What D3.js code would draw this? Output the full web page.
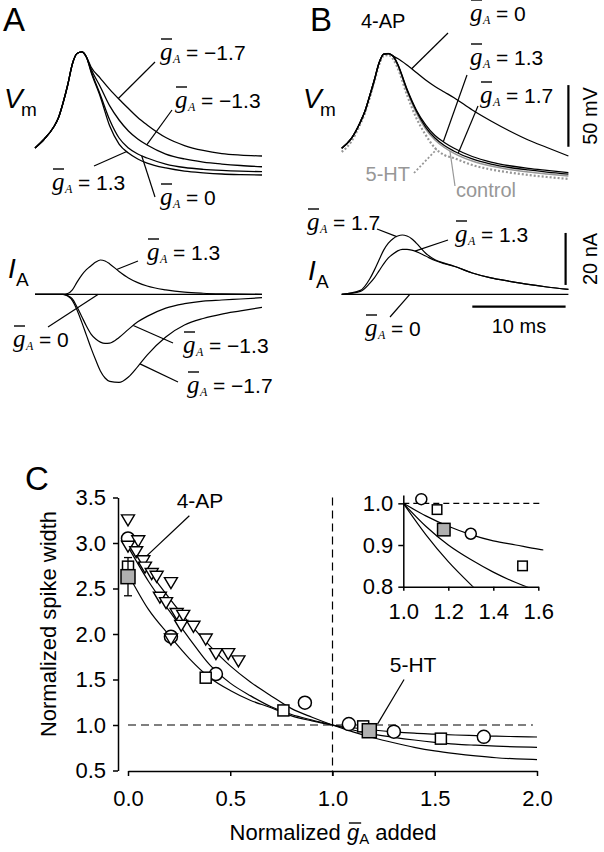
<!DOCTYPE html>
<html>
<head>
<meta charset="utf-8">
<script src="https://cdnjs.cloudflare.com/ajax/libs/d3/7.8.5/d3.min.js"></script>
<style>
body { margin: 0; background: #fff; }
</style>
</head>
<body>
<div id="fig"></div>
<script>

// ---- panel A / B traces (time in ms, Vm in mV, IA in nA) ----
var vmTime = [0, 1, 2, 2.5, 3, 3.5, 4, 4.5, 5, 5.5, 6, 7, 8, 9, 10, 11, 12, 14, 16, 18, 20, 22, 24.3];

var vmRiseA = [-50, -42.7, -33, -25.7, -13.5, 1.1, 18.1, 26.6, 27.9, 23.8];
var vmTailA_p13 = [11.6, -8.6, -32.2, -46.8, -54.1, -58.9, -62.2, -66.2, -68.7, -70.1, -71.1, -71.6, -71.9];
var vmTailA_0 = [12.4, -7.0, -27.3, -41.9, -50.0, -54.9, -58.1, -63.0, -65.8, -67.3, -68.2, -68.8, -69.2];
var vmTailA_m13 = [14.1, -0.5, -15.9, -27.3, -36.2, -42.7, -47.6, -54.9, -58.9, -61.4, -63.0, -64.2, -65.2];
var vmTailA_m17 = [15.7, 6.5, -2.5, -10.5, -18.0, -25.3, -31.3, -41.5, -48.0, -52.0, -54.5, -55.7, -56.5];

var vmRiseB = [-50.2, -42.7, -28.9, -20.0, -7.8, 5.1, 18.9, 26.2, 26.6, 24.6];
var vmTailB_0 = [22.6, 17.3, 11.2, 5.1, -0.1, -4.6, -9.0, -19.2, -28.1, -36.2, -43.5, -49.6, -56.5];
var vmTailB_13 = [18.1, -2.2, -19.2, -31.3, -39.9, -45.5, -50.0, -56.9, -61.4, -64.4, -66.6, -68.2, -69.9];
var vmTailB_17 = [17.7, -3.0, -20.0, -33.0, -41.9, -48.0, -52.4, -58.9, -63.0, -65.8, -67.8, -69.5, -71.1];
var vmTailB_control = [17.3, -3.8, -21.6, -34.6, -43.5, -49.6, -54.1, -60.5, -64.6, -67.4, -69.5, -71.1, -72.7];
var vmB_5HT = [-53.2, -45.1, -30.5, -21.6, -9.4, 3.5, 17.3, 24.6, 25.4, 22.2, 14.9, -7.0, -25.7, -39.4, -50.0, -55.7, -58.1, -63.8, -67.4, -69.9, -71.9, -73.5, -75.1];

var iaTime = [0, 2, 3, 3.5, 4, 4.5, 5, 5.5, 6, 6.5, 7, 7.5, 8, 9, 10, 11, 12, 14, 16, 18, 20, 22, 24.3];
var iaA_p13 = [0, 0, 0, 0.3, 1.7, 4.7, 7.4, 9.5, 11.0, 12.4, 13.2, 12.8, 11.7, 8.8, 6.3, 4.5, 3.2, 1.7, 0.8, 0.4, 0.2, 0.1, 0];
var iaA_0 = [0, 0, 0, 0, 0, 0, 0, 0, 0, 0, 0, 0, 0, 0, 0, 0, 0, 0, 0, 0, 0, 0, 0];
var iaA_m13 = [0, 0, 0, -0.5, -1.8, -4.9, -8.5, -12.2, -15.3, -17.2, -18.4, -18.9, -18.8, -16.6, -13.5, -10.6, -8.5, -5.3, -3.6, -2.6, -2.2, -1.8, -1.3];
var iaA_m17 = [0, 0, 0, -0.7, -2.4, -6.0, -10.7, -15.7, -20.7, -25.3, -29.5, -32.2, -33.5, -33.9, -31.8, -27.8, -23.4, -16.4, -11.8, -9.3, -7.6, -6.4, -5.0];
var iaB_17 = [0, 1.5, 5.9, 9.3, 13.2, 17.0, 19.7, 21.4, 22.4, 22.8, 22.4, 21.4, 19.7, 15.8, 13.3, 12.0, 10.9, 8.2, 6.3, 5.0, 3.8, 2.8, 1.9];
var iaB_13 = [0, 1.1, 4.2, 6.3, 9.0, 11.7, 14.0, 15.5, 16.7, 17.3, 17.3, 17.0, 16.4, 14.7, 13.0, 11.8, 10.8, 8.2, 6.3, 5.0, 3.8, 2.8, 1.9];
var iaB_0 = [0, 0, 0, 0, 0, 0, 0, 0, 0, 0, 0, 0, 0, 0, 0, 0, 0, 0, 0, 0, 0, 0, 0];

// ---- panel C ----
var fitX = [0, 0.1, 0.2, 0.3, 0.4, 0.5, 0.6, 0.7, 0.8, 0.9, 1.0, 1.1, 1.2, 1.3, 1.4, 1.5, 1.6, 1.7, 1.8, 1.9, 2.0];
var fitSteep = [3.02, 2.70, 2.40, 2.12, 1.87, 1.65, 1.47, 1.32, 1.18, 1.085, 1.0, 0.925, 0.86, 0.805, 0.755, 0.715, 0.685, 0.66, 0.64, 0.628, 0.62];
var fitMid = [2.96, 2.58, 2.26, 1.95, 1.66, 1.46, 1.32, 1.20, 1.115, 1.055, 1.0, 0.945, 0.90, 0.865, 0.835, 0.81, 0.79, 0.778, 0.768, 0.76, 0.755];
var fitFlat = [2.66, 2.27, 1.99, 1.73, 1.52, 1.38, 1.27, 1.19, 1.10, 1.045, 1.0, 0.97, 0.945, 0.925, 0.91, 0.90, 0.89, 0.883, 0.877, 0.872, 0.868];

var triX = [0.0, 0.05, 0.0, 0.04, 0.075, 0.083, 0.116, 0.14, 0.21, 0.156, 0.186, 0.238, 0.27, 0.26, 0.32, 0.38, 0.21, 0.43, 0.49, 0.54];
var triY = [3.26, 3.03, 2.97, 2.91, 2.81, 2.74, 2.67, 2.64, 2.57, 2.41, 2.35, 2.23, 2.21, 2.10, 2.09, 1.95, 1.95, 1.79, 1.79, 1.71];
var circX = [0.0, 0.21, 0.43, 0.865, 1.08, 1.30, 1.74];
var circY = [3.05, 1.97, 1.56, 1.245, 1.01, 0.927, 0.87];
var sqX = [0.0, 0.38, 0.76, 1.15, 1.53];
var sqY = [2.74, 1.52, 1.16, 0.985, 0.85];
var graySqX = [0.0, 1.18];
var graySqY = [2.63, 0.937];
var graySqErr = [[2.42, 2.84], null];

var yTicksC = [0.5, 1.0, 1.5, 2.0, 2.5, 3.0, 3.5];
var xTicksC = [0, 0.5, 1.0, 1.5, 2.0];
var yTicksIn = [0.8, 0.9, 1.0];
var xTicksIn = [1.0, 1.2, 1.4, 1.6];


var sans = "'Liberation Sans', Arial, Helvetica, sans-serif";
var serif = "'Liberation Serif', 'Times New Roman', serif";
var grey = "#979797";

var svg = d3.select("#fig").append("svg")
	.attr("width", 604)
	.attr("height", 852)
	.style("font-family", sans);

function zip(t, v) { return t.map(function(d, i) { return [d, v[i]]; }); }

function valAt(t, v, tt) {
	for (var i = 1; i < t.length; i++) {
		if (tt <= t[i]) {
			var f = (tt - t[i-1]) / (t[i] - t[i-1]);
			return v[i-1] + f * (v[i] - v[i-1]);
		}
	}
	return v[v.length-1];
}

function line(x, y) {
	return d3.line()
		.x(function(d) { return x(d[0]); })
		.y(function(d) { return y(d[1]); })
		.curve(d3.curveMonotoneX);
}

function txt(x, y, s, size, extra) {
	var t = svg.append("text").attr("x", x).attr("y", y)
		.attr("font-size", size).text(s);
	if (extra) extra(t);
	return t;
}

// g-bar label:  g(overbar) subscript A  = value
function gLabel(x, y, value) {
	svg.append("text").attr("x", x).attr("y", y)
		.attr("font-family", serif).attr("font-style", "italic")
		.attr("font-size", 25).text("g");
	svg.append("line")
		.attr("x1", x + 1).attr("x2", x + 12)
		.attr("y1", y - 21).attr("y2", y - 21)
		.attr("stroke", "#000").attr("stroke-width", 1.4);
	svg.append("text").attr("x", x + 13).attr("y", y + 3)
		.attr("font-family", serif).attr("font-style", "italic")
		.attr("font-size", 12).text("A");
	return svg.append("text").attr("x", x + 26).attr("y", y)
		.attr("font-size", 21).text("= " + value);
}

function pointer(x1, y1, x2, y2, color, dash) {
	var l = svg.append("line")
		.attr("x1", x1).attr("y1", y1).attr("x2", x2).attr("y2", y2)
		.attr("stroke", color || "#000").attr("stroke-width", 1.2);
	if (dash) l.attr("stroke-dasharray", dash).attr("stroke-width", 1.8);
}

// ================= A and B =================
var xA = d3.scaleLinear().domain([0, 24.3]).range([35, 262]);
var xB = d3.scaleLinear().domain([0, 24.3]).range([341.7, 568.4]);
var yV = d3.scaleLinear().domain([-50, 28]).range([148, 51.8]);
var yI = d3.scaleLinear().domain([0, 20]).range([294.3, 242.3]);

var vmA = {
	"1.3": vmRiseA.concat(vmTailA_p13),
	"0": vmRiseA.concat(vmTailA_0),
	"-1.3": vmRiseA.concat(vmTailA_m13),
	"-1.7": vmRiseA.concat(vmTailA_m17)
};
var vmB = {
	"0": vmRiseB.concat(vmTailB_0),
	"1.3": vmRiseB.concat(vmTailB_13),
	"1.7": vmRiseB.concat(vmTailB_17),
	"control": vmRiseB.concat(vmTailB_control),
	"5-HT": vmB_5HT
};

var gTr = svg.append("g").attr("fill", "none");

// B grey traces under the black ones
gTr.append("path").attr("d", line(xB, yV)(zip(vmTime, vmB["5-HT"])))
	.attr("stroke", grey).attr("stroke-width", 2.2).attr("stroke-dasharray", "2,2");
gTr.append("path").attr("d", line(xB, yV)(zip(vmTime, vmB["control"])))
	.attr("stroke", grey).attr("stroke-width", 1.5);

Object.keys(vmA).forEach(function(k) {
	gTr.append("path").attr("d", line(xA, yV)(zip(vmTime, vmA[k])))
		.attr("stroke", "#000").attr("stroke-width", 1.3);
});
["0", "1.3", "1.7"].forEach(function(k) {
	gTr.append("path").attr("d", line(xB, yV)(zip(vmTime, vmB[k])))
		.attr("stroke", "#000").attr("stroke-width", 1.3);
});

[iaA_0, iaA_p13, iaA_m13, iaA_m17].forEach(function(s) {
	gTr.append("path").attr("d", line(xA, yI)(zip(iaTime, s)))
		.attr("stroke", "#000").attr("stroke-width", 1.2);
});
[iaB_0, iaB_13, iaB_17].forEach(function(s) {
	gTr.append("path").attr("d", line(xB, yI)(zip(iaTime, s)))
		.attr("stroke", "#000").attr("stroke-width", 1.2);
});

// panel letters and trace names
txt(3, 31, "A", 33);
txt(310, 31, "B", 33);
txt(25, 490, "C", 33);
txt(361, 28, "4-AP", 20);

[[4, 108], [303, 108]].forEach(function(p) {
	txt(p[0], p[1], "V", 28, function(t) { t.attr("font-style", "italic"); });
	txt(p[0] + 17, p[1] + 8, "m", 19);
});
[[8, 278], [308, 280]].forEach(function(p) {
	txt(p[0], p[1], "I", 28, function(t) { t.attr("font-style", "italic"); });
	txt(p[0] + 8, p[1] + 8, "A", 19);
});

// annotations, pointer ends sit on the traces
var annA = [
	{ v: vmA["-1.7"], t: 8.92, lx: 160, ly: 60, sx: 155, sy: 62, s: "\u22121.7" },
	{ v: vmA["-1.3"], t: 11.96, lx: 175, ly: 108, sx: 172, sy: 110, s: "\u22121.3" },
	{ v: vmA["1.3"], t: 9.82, lx: 52, ly: 190, sx: 94, sy: 166, s: "1.3" },
	{ v: vmA["0"], t: 11.42, lx: 160, ly: 205, sx: 155, sy: 197, s: "0" }
];
annA.forEach(function(a) {
	gLabel(a.lx, a.ly, a.s);
	pointer(a.sx, a.sy, xA(a.t), yV(valAt(vmTime, a.v, a.t)));
});

var annAI = [
	{ v: iaA_p13, t: 8.74, lx: 147, ly: 260, sx: 138, sy: 261, s: "1.3" },
	{ v: iaA_0, t: 6.78, lx: 13, ly: 347, sx: 48, sy: 327, s: "0" },
	{ v: iaA_m13, t: 10.52, lx: 183, ly: 353, sx: 173, sy: 343, s: "\u22121.3" },
	{ v: iaA_m17, t: 11.24, lx: 187, ly: 393, sx: 178, sy: 382, s: "\u22121.7" }
];
annAI.forEach(function(a) {
	gLabel(a.lx, a.ly, a.s);
	pointer(a.sx, a.sy, xA(a.t), yI(valAt(iaTime, a.v, a.t)));
});

var annB = [
	{ v: vmB["0"], t: 7.5, lx: 470, ly: 21, sx: 448, sy: 33, s: "0" },
	{ v: vmB["1.3"], t: 10.89, lx: 470, ly: 65, sx: 467, sy: 75, s: "1.3" },
	{ v: vmB["1.7"], t: 12.5, lx: 480, ly: 103, sx: 478, sy: 106, s: "1.7" }
];
annB.forEach(function(a) {
	gLabel(a.lx, a.ly, a.s);
	pointer(a.sx, a.sy, xB(a.t), yV(valAt(vmTime, a.v, a.t)));
});

txt(410, 181, "5-HT", 20, function(t) { t.attr("fill", grey).attr("text-anchor", "end"); });
pointer(414, 173, xB(10.18), yV(valAt(vmTime, vmB["5-HT"], 10.18)), grey, "2,2");
txt(456, 197, "control", 20, function(t) { t.attr("fill", grey); });
pointer(455, 186, xB(11.6), yV(valAt(vmTime, vmB["control"], 11.6)), grey);

var annBI = [
	{ v: iaB_17, t: 5.9, lx: 307, ly: 230, sx: 377, sy: 229, s: "1.7" },
	{ v: iaB_13, t: 7.85, lx: 455, ly: 242, sx: 448, sy: 240, s: "1.3" },
	{ v: iaB_0, t: 7.3, lx: 365, ly: 336, sx: 390, sy: 317, s: "0" }
];
annBI.forEach(function(a) {
	gLabel(a.lx, a.ly, a.s);
	pointer(a.sx, a.sy, xB(a.t), yI(valAt(iaTime, a.v, a.t)));
});

// scale bars
var bar = svg.append("g").attr("stroke", "#000").attr("stroke-width", 2.2);
bar.append("line").attr("x1", xB(24.3)).attr("x2", xB(24.3)).attr("y1", yV(-49)).attr("y2", yV(1));
bar.append("line").attr("x1", xB(24.0)).attr("x2", xB(24.0)).attr("y1", yI(3.6)).attr("y2", yI(23.6));
bar.append("line").attr("x1", xB(14)).attr("x2", xB(24)).attr("y1", 306.7).attr("y2", 306.7);
svg.append("text").attr("transform", "translate(597," + (yV(-49) + yV(1)) / 2 + ") rotate(-90)")
	.attr("text-anchor", "middle").attr("font-size", 20).text("50 mV");
svg.append("text").attr("transform", "translate(597," + (yI(3.6) + yI(23.6)) / 2 + ") rotate(-90)")
	.attr("text-anchor", "middle").attr("font-size", 20).text("20 nA");
txt((xB(14) + xB(24)) / 2, 333, "10 ms", 20, function(t) { t.attr("text-anchor", "middle"); });

// ================= C =================
var xC = d3.scaleLinear().domain([0, 2]).range([128, 537]);
var yC = d3.scaleLinear().domain([0.5, 3.5]).range([770.5, 497.5]);
var xIn = d3.scaleLinear().domain([1, 1.6]).range([403.3, 538.3]);
var yIn = d3.scaleLinear().domain([0.8, 1.02]).range([586.7, 495]);

function styleAxis(g, size) {
	g.attr("font-size", size).attr("font-family", sans);
	g.selectAll("path, line").attr("stroke-width", 1.5);
}

svg.append("g").attr("transform", "translate(118,0)")
	.call(d3.axisLeft(yC).tickValues(yTicksC).tickFormat(d3.format(".1f"))
		.tickSize(5).tickSizeOuter(0).tickPadding(7))
	.call(styleAxis, 22);
svg.append("g").attr("transform", "translate(0,771)")
	.call(d3.axisBottom(xC).tickValues(xTicksC).tickFormat(d3.format(".1f"))
		.tickSize(5).tickSizeOuter(0).tickPadding(14))
	.call(styleAxis, 22);

svg.append("text").attr("transform", "translate(56,624) rotate(-90)")
	.attr("text-anchor", "middle").attr("font-size", 22).text("Normalized spike width");

var xl = svg.append("text").attr("x", 333).attr("y", 840)
	.attr("text-anchor", "middle").attr("font-size", 22);
xl.append("tspan").text("Normalized ");
xl.append("tspan").attr("font-style", "italic").text("g");
xl.append("tspan").attr("font-size", 15).attr("dy", 4).text("A");
xl.append("tspan").attr("dy", -4).text(" added");
var gs = xl.node().getStartPositionOfChar(11), ge = xl.node().getEndPositionOfChar(11);
svg.append("line").attr("x1", gs.x + 2).attr("x2", ge.x + 2).attr("y1", 823).attr("y2", 823)
	.attr("stroke", "#000").attr("stroke-width", 1.4);

// dashed reference lines
var dash = svg.append("g").attr("stroke", "#000").attr("stroke-width", 1.2).attr("stroke-dasharray", "8,5");
dash.append("line").attr("x1", xC(0)).attr("x2", xC(1.98)).attr("y1", yC(1)).attr("y2", yC(1));
dash.append("line").attr("x1", xC(1)).attr("x2", xC(1)).attr("y1", yC(3.5)).attr("y2", yC(0.44));

var fits = [fitSteep, fitMid, fitFlat];
var gFit = svg.append("g").attr("fill", "none").attr("stroke", "#000").attr("stroke-width", 1.2);
fits.forEach(function(f) {
	gFit.append("path").attr("d", line(xC, yC)(zip(fitX, f)));
});

pointer(xC(0.30), yC(3.30), xC(0.05), yC(2.77));
pointer(xC(1.35), yC(1.50), xC(1.22), yC(1.01));
txt(xC(0.238), yC(3.385), "4-AP", 21);
txt(xC(1.28), yC(1.585), "5-HT", 21);

// markers; xr limits which points are drawn (used by the inset)
function drawMarkers(g, x, y, r, sq, gsq, tri, xr) {
	var inR = function(v) { return !xr || (v >= xr[0] && v <= xr[1]); };
	g.selectAll(null).data(d3.range(circX.length).filter(function(i) { return inR(circX[i]); }))
		.enter().append("circle")
		.attr("cx", function(i) { return x(circX[i]); })
		.attr("cy", function(i) { return y(circY[i]); })
		.attr("r", r).attr("fill", "#fff").attr("stroke", "#000").attr("stroke-width", 1.5);
	if (tri) {
		g.selectAll(null).data(d3.range(triX.length)).enter().append("path")
			.attr("d", function(i) {
				var cx = x(triX[i]), cy = y(triY[i]);
				return "M" + (cx - 6.5) + "," + (cy - 4.5) + "L" + (cx + 6.5) + "," + (cy - 4.5) + "L" + cx + "," + (cy + 6.5) + "Z";
			})
			.attr("fill", "#fff").attr("stroke", "#000").attr("stroke-width", 1.4);
	}
	g.selectAll(null).data(d3.range(sqX.length).filter(function(i) { return inR(sqX[i]); }))
		.enter().append("rect")
		.attr("x", function(i) { return x(sqX[i]) - sq / 2; })
		.attr("y", function(i) { return y(sqY[i]) - sq / 2; })
		.attr("width", sq).attr("height", sq)
		.attr("fill", "#fff").attr("stroke", "#000").attr("stroke-width", 1.5);
	graySqX.forEach(function(gx, i) {
		if (!inR(gx)) return;
		var e = graySqErr[i];
		if (e) {
			g.append("line").attr("x1", x(gx)).attr("x2", x(gx)).attr("y1", y(e[0])).attr("y2", y(e[1]))
				.attr("stroke", "#000").attr("stroke-width", 1.3);
			e.forEach(function(ev) {
				g.append("line").attr("x1", x(gx) - 4).attr("x2", x(gx) + 4).attr("y1", y(ev)).attr("y2", y(ev))
					.attr("stroke", "#000").attr("stroke-width", 1.3);
			});
		}
		g.append("rect").attr("x", x(gx) - gsq / 2).attr("y", y(graySqY[i]) - gsq / 2)
			.attr("width", gsq).attr("height", gsq)
			.attr("fill", "#b0b0b0").attr("stroke", "#000").attr("stroke-width", 1.5);
	});
}

drawMarkers(svg.append("g"), xC, yC, 6.5, 11, 14, true, null);

// inset
svg.append("defs").append("clipPath").attr("id", "inclip")
	.append("rect").attr("x", 403.3).attr("y", 490).attr("width", 140).attr("height", 96.7);

svg.append("g").attr("transform", "translate(403.3,0)")
	.call(d3.axisLeft(yIn).tickValues(yTicksIn).tickFormat(d3.format(".1f"))
		.tickSize(5).tickSizeOuter(0).tickPadding(5))
	.call(styleAxis, 22);
svg.append("g").attr("transform", "translate(0,586.7)")
	.call(d3.axisBottom(xIn).tickValues(xTicksIn).tickFormat(d3.format(".1f"))
		.tickSize(4).tickSizeOuter(0).tickPadding(13))
	.call(styleAxis, 22);

svg.append("line").attr("x1", xIn(1)).attr("x2", xIn(1.62)).attr("y1", yIn(1)).attr("y2", yIn(1))
	.attr("stroke", "#000").attr("stroke-width", 1.2).attr("stroke-dasharray", "6,4");

var gIn = svg.append("g").attr("clip-path", "url(#inclip)")
	.attr("fill", "none").attr("stroke", "#000").attr("stroke-width", 1.2);
fits.forEach(function(f) {
	var pts = zip(fitX, f).filter(function(d) { return d[0] >= 1; });
	gIn.append("path").attr("d", line(xIn, yIn)(pts));
});

drawMarkers(svg.append("g"), xIn, yIn, 5.5, 9.5, 12.5, false, [1, 1.6]);

</script>
</body>
</html>
